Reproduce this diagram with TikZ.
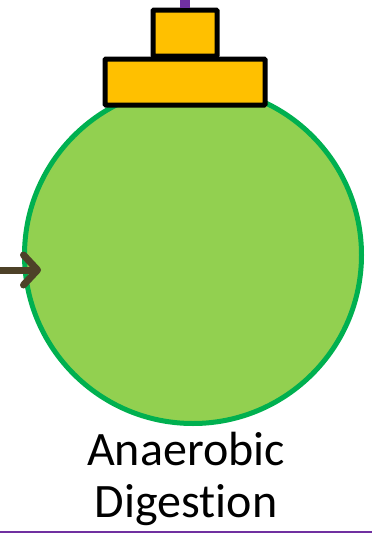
\documentclass[tikz,border=0pt]{standalone}
\usepackage{fontspec}
\setmainfont{Carlito}[Ligatures=NoCommon]
\usetikzlibrary{arrows.meta}
\definecolor{digestgreen}{RGB}{146,208,80}
\definecolor{rimgreen}{RGB}{0,176,80}
\definecolor{capgold}{RGB}{255,192,0}
\definecolor{pipepurple}{RGB}{112,48,160}
\definecolor{feedbrown}{RGB}{77,65,40}

\begin{document}
\begin{tikzpicture}[x=1pt,y=-1pt,
    lidbox/.style={draw=black,fill=capgold,line width=5pt,rounded corners=1pt,inner sep=0pt},
    label/.style={font=\fontsize{48}{52}\selectfont,inner sep=0pt,anchor=base}]
  \useasboundingbox (0,0) rectangle (372,533);
  % digester tank
  \node[circle,draw=rimgreen,fill=digestgreen,line width=5pt,minimum size=337pt,inner sep=0pt] (ad) at (193,255) {};
  % lid on top
  \node[lidbox,minimum width=160pt,minimum height=46pt] (lid) at (185,82) {};
  \node[lidbox,minimum width=64pt,minimum height=46pt] (cap) at (185,33) {};
  \coordinate (gasout) at (185,0);
  \draw[pipepurple,line width=10pt] (gasout) -- (cap.north);
  % feed in from the left
  \coordinate (feed) at (0,270);
  \coordinate (feedtip) at (41,270);
  \draw[feedbrown,line width=7pt,-{Straight Barb[length=14pt,width=30pt,round]}] (feed) -- (feedtip);
  % name
  \node[label] (lbl1) at (186,465) {Anaerobic};
  \node[label] (lbl2) at (186,517) {Digestion};
  % base line
  \coordinate (baseL) at (0,532);
  \coordinate (baseR) at (372,532);
  \draw[pipepurple,line width=1.5pt] (baseL) -- (baseR);
\end{tikzpicture}
\end{document}
